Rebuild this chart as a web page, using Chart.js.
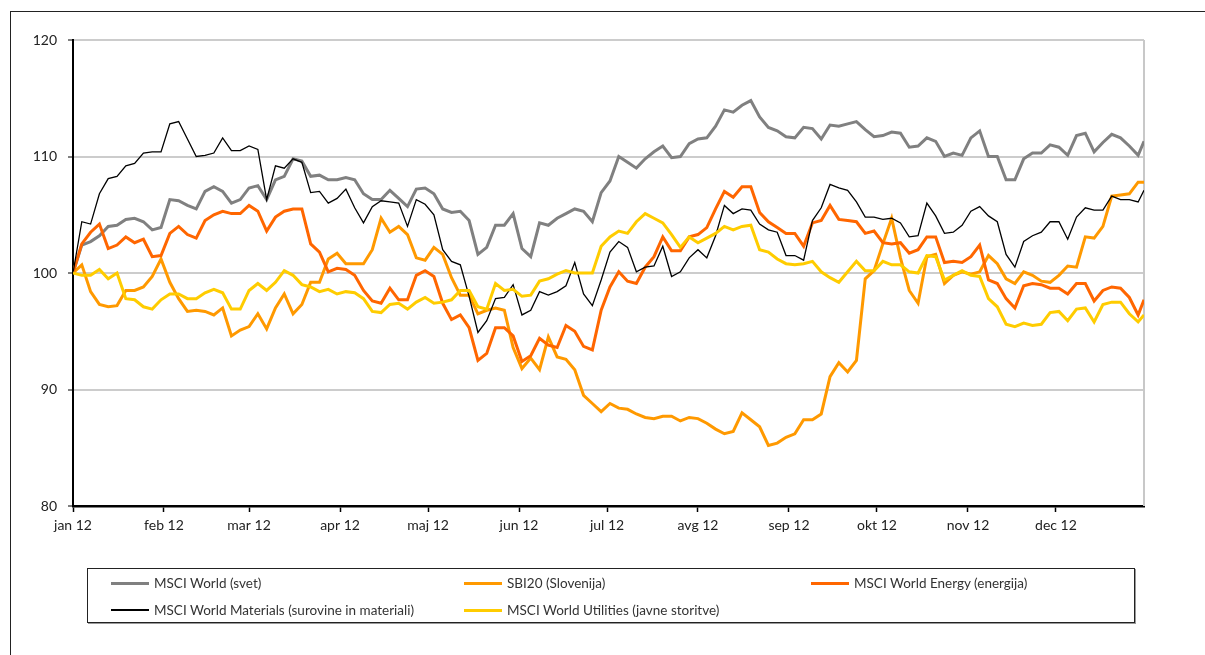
<!DOCTYPE html>
<html>
<head>
<meta charset="utf-8">
<script src="https://cdn.jsdelivr.net/npm/chart.js@4.4.1/dist/chart.umd.min.js"></script>
<style>
html,body{margin:0;padding:0;background:#fff;overflow:hidden;}
#wrap{position:relative;width:1205px;height:655px;overflow:hidden;}
#frame{position:absolute;left:10px;top:11px;width:1400px;height:900px;border:1.5px solid #222;box-sizing:border-box;}
#c{position:absolute;left:0;top:0;}
#legend{position:absolute;left:87px;top:568px;width:1048px;height:55px;border:1.5px solid #222;box-sizing:border-box;box-shadow:1px 1px 0 #999;font-family:Lato,"Noto Sans",sans-serif;font-size:13.5px;color:#333;}
.item{position:absolute;height:20px;display:flex;align-items:center;white-space:nowrap;}
.sw{display:inline-block;width:38px;margin-right:5px;}
</style>
</head>
<body>
<div id="wrap">
  <div id="frame"></div>
  <canvas id="c" width="1205" height="655"></canvas>
  <div id="legend"></div>
</div>
<script>
// x positions: day of year 2012 (0 = 1 Jan)
const days = [0,3,6,9,12,15,18,21,24,27,30,33,36,39,42,45,48,51,54,57,60,
63,66,69,72,75,78,81,84,87,90,93,96,99,102,105,108,111,114,117,120,123,
126,129,132,135,138,141,144,147,150,153,156,159,162,165,168,171,174,177,180,183,186,
189,192,195,198,201,204,207,210,213,216,219,222,225,228,231,234,237,240,243,246,249,
252,255,258,261,264,267,270,273,276,279,282,285,288,291,294,297,300,303,306,309,312,
315,318,321,324,327,330,333,336,339,342,345,348,351,354,357,360,363,365];

const monthDays = [0,31,60,91,121,152,182,213,244,274,305,335];
const monthLabels = ["jan 12","feb 12","mar 12","apr 12","maj 12","jun 12","jul 12","avg 12","sep 12","okt 12","nov 12","dec 12"];
const yTicks = [80,90,100,110,120];

const msciWorld = [100,102.4,102.7,103.2,104.0,104.1,104.6,104.7,104.4,103.7,103.9,106.3,106.2,105.8,105.5,107.0,107.4,107.0,106.0,106.3,107.3,
107.5,106.3,108.0,108.3,109.8,109.6,108.3,108.4,108.0,108.0,108.2,108.0,106.8,106.3,106.3,107.1,106.4,105.7,107.2,107.3,106.8,
105.5,105.2,105.3,104.5,101.6,102.2,104.1,104.1,105.1,102.1,101.4,104.3,104.1,104.7,105.1,105.5,105.3,104.4,106.9,107.9,110.0,
109.5,109.0,109.8,110.4,110.9,109.9,110.0,111.1,111.5,111.6,112.6,114.0,113.8,114.4,114.8,113.4,112.5,112.2,111.7,111.6,112.5,
112.4,111.5,112.7,112.6,112.8,113.0,112.3,111.7,111.8,112.1,112.0,110.8,110.9,111.6,111.3,110.0,110.3,110.1,111.6,112.2,110.0,
110.0,108.0,108.0,109.8,110.3,110.3,111.0,110.8,110.1,111.8,112.0,110.4,111.2,111.9,111.6,110.9,110.1,111.3];

const sbi20 = [100,100.7,98.4,97.3,97.1,97.2,98.5,98.5,98.8,99.7,101.2,99.2,97.8,96.7,96.8,96.7,96.4,97.0,94.6,95.1,95.4,
96.5,95.2,97.0,98.2,96.5,97.3,99.2,99.2,101.2,101.7,100.8,100.8,100.8,102.0,104.7,103.5,104.0,103.3,101.3,101.1,102.2,
101.6,99.6,98.1,98.1,96.5,96.8,97.0,96.8,93.6,91.8,92.7,91.7,94.5,92.8,92.6,91.7,89.5,88.8,88.1,88.8,88.4,
88.3,87.9,87.6,87.5,87.7,87.7,87.3,87.6,87.5,87.1,86.6,86.2,86.4,88.0,87.4,86.8,85.2,85.4,85.9,86.2,87.4,
87.4,87.9,91.1,92.3,91.5,92.5,99.5,100.2,102.5,104.7,101.3,98.5,97.4,101.4,101.6,99.1,99.8,100.1,99.9,100.1,101.5,
100.8,99.5,99.1,100.1,99.8,99.3,99.2,99.8,100.6,100.5,103.1,103.0,104.0,106.6,106.7,106.8,107.8,107.8];

const msciEnergy = [100,102.5,103.5,104.2,102.1,102.4,103.1,102.6,102.9,101.4,101.5,103.4,104.0,103.3,103.0,104.5,105.0,105.3,105.1,105.1,105.8,
105.3,103.6,104.8,105.3,105.5,105.5,102.5,101.8,100.1,100.4,100.3,99.8,98.5,97.6,97.4,98.7,97.7,97.7,99.8,100.2,99.7,
97.4,96.0,96.4,95.3,92.5,93.1,95.3,95.3,94.6,92.4,92.9,94.4,93.8,93.6,95.5,95.0,93.7,93.4,96.8,98.8,100.1,
99.3,99.1,100.5,101.4,103.1,101.9,101.9,103.1,103.3,103.9,105.5,107.0,106.5,107.4,107.4,105.2,104.4,103.9,103.4,103.4,102.3,
104.3,104.5,105.8,104.6,104.5,104.4,103.4,103.6,102.6,102.5,102.6,101.7,102.0,103.1,103.1,100.9,101.0,100.9,101.4,102.4,99.4,
99.1,97.8,97.0,98.9,99.1,99.0,98.7,98.7,98.2,99.1,99.1,97.6,98.5,98.8,98.7,97.9,96.4,97.7];

const msciMaterials = [100,104.4,104.2,106.8,108.1,108.3,109.2,109.4,110.3,110.4,110.4,112.8,113.0,111.5,110.0,110.1,110.3,111.6,110.5,110.5,110.9,
110.6,106.3,109.2,109.0,109.8,109.5,106.9,107.0,106.0,106.4,107.2,105.6,104.3,105.7,106.2,106.1,106.0,104.0,106.3,105.9,105.0,
102.0,101.0,100.7,98.0,94.9,95.9,97.8,97.9,99.0,96.4,96.8,98.4,98.1,98.4,98.9,100.9,98.2,97.2,99.4,101.8,102.7,
102.2,100.1,100.5,100.6,102.3,99.7,100.1,101.3,102.0,101.3,103.2,105.8,105.1,105.5,105.4,104.2,103.7,103.5,101.5,101.5,101.1,
104.5,105.6,107.6,107.3,107.1,106.1,104.8,104.8,104.6,104.7,104.3,103.1,103.2,106.0,104.9,103.4,103.5,104.1,105.3,105.7,104.9,
104.4,101.6,100.5,102.7,103.2,103.5,104.4,104.4,102.9,104.8,105.6,105.4,105.4,106.6,106.3,106.3,106.1,107.1];

const msciUtilities = [100,99.8,99.8,100.3,99.5,100.0,97.8,97.7,97.1,96.9,97.7,98.2,98.2,97.8,97.8,98.3,98.6,98.3,96.9,96.9,98.5,
99.1,98.5,99.2,100.2,99.8,99.0,98.8,98.4,98.6,98.2,98.4,98.3,97.8,96.7,96.6,97.3,97.4,96.9,97.5,97.9,97.4,
97.5,97.7,98.5,98.5,97.1,96.9,99.1,98.5,98.6,98.0,98.1,99.3,99.5,99.9,100.2,100.0,100.0,100.0,102.3,103.1,103.6,
103.4,104.4,105.1,104.7,104.3,103.3,102.2,103.1,102.6,103.0,103.4,104.0,103.7,104.0,104.1,102.0,101.8,101.2,100.8,100.7,100.8,
101.0,100.1,99.6,99.2,100.1,101.0,100.2,100.2,101.0,100.7,100.7,100.1,100.0,101.5,101.4,99.4,99.8,100.2,99.8,99.7,97.8,
97.1,95.6,95.4,95.7,95.5,95.6,96.6,96.7,95.9,96.9,97.0,95.8,97.3,97.5,97.5,96.5,95.8,96.4];

const seriesNames = ["MSCI World (svet)","SBI20 (Slovenija)","MSCI World Energy (energija)","MSCI World Materials (surovine in materiali)","MSCI World Utilities (javne storitve)"];
const seriesValues = [msciWorld, sbi20, msciEnergy, msciMaterials, msciUtilities];
const seriesColors = ["#808080","#FF9900","#FF6600","#000000","#FFCC00"];
const seriesWidths = [3,3,3,1.3,3];

const FONT = 'Lato, "Noto Sans", sans-serif';

const datasets = seriesValues.map((vals, i) => ({
  label: seriesNames[i],
  data: vals.map((v, k) => ({x: days[k], y: v})),
  borderColor: seriesColors[i],
  backgroundColor: seriesColors[i],
  borderWidth: seriesWidths[i],
  pointRadius: 0,
  tension: 0,
  fill: false,
  order: seriesValues.length - 1 - i
}));

const rightEdge = {
  id: 'rightEdge',
  beforeDatasetsDraw(c) {
    const a = c.chartArea, g = c.ctx;
    g.save();
    g.strokeStyle = '#c8c8c8';
    g.lineWidth = 2;
    g.beginPath();
    g.moveTo(a.right, a.top);
    g.lineTo(a.right, a.bottom);
    g.stroke();
    g.restore();
  }
};

new Chart(document.getElementById('c'), {
  type: 'line',
  data: { datasets },
  options: {
    responsive: false,
    animation: false,
    layout: { padding: { left: 0, top: 40, right: 61, bottom: 0 } },
    plugins: { legend: { display: false }, tooltip: { enabled: false } },
    scales: {
      x: {
        type: 'linear', min: 0, max: 365,
        afterBuildTicks: s => { s.ticks = monthDays.map(v => ({ value: v })); },
        afterFit: s => { s.height = 149; },
        ticks: { autoSkip: false, maxRotation: 0, padding: 5, color: '#222',
                 font: { family: FONT, size: 14 },
                 callback: (v, i) => monthLabels[i] },
        grid: { drawOnChartArea: false, drawTicks: true, tickLength: 6, tickColor: '#000', tickWidth: 1.5 },
        border: { color: '#000', width: 2.5 }
      },
      y: {
        min: 80, max: 120,
        afterBuildTicks: s => { s.ticks = yTicks.map(v => ({ value: v })); },
        afterFit: s => { s.width = 73; },
        ticks: { padding: 11, color: '#222', font: { family: FONT, size: 14 } },
        grid: { color: '#cccccc', lineWidth: 2, tickLength: 5, tickColor: '#000', tickWidth: 1 },
        border: { color: '#000', width: 2 }
      }
    }
  },
  plugins: [rightEdge]
});

// legend (3 columns x 2 rows, like the original)
const legend = document.getElementById('legend');
const colX = [23, 376, 723];
const rowY = [4, 31];
seriesNames.forEach((name, i) => {
  const it = document.createElement('div');
  it.className = 'item';
  it.style.left = colX[i % 3] + 'px';
  it.style.top = rowY[Math.floor(i / 3)] + 'px';
  const sw = document.createElement('span');
  sw.className = 'sw';
  sw.style.height = (seriesWidths[i] < 2 ? 1.5 : 3) + 'px';
  sw.style.background = seriesColors[i];
  const tx = document.createElement('span');
  tx.textContent = name;
  it.appendChild(sw);
  it.appendChild(tx);
  legend.appendChild(it);
});
</script>
</body>
</html>
